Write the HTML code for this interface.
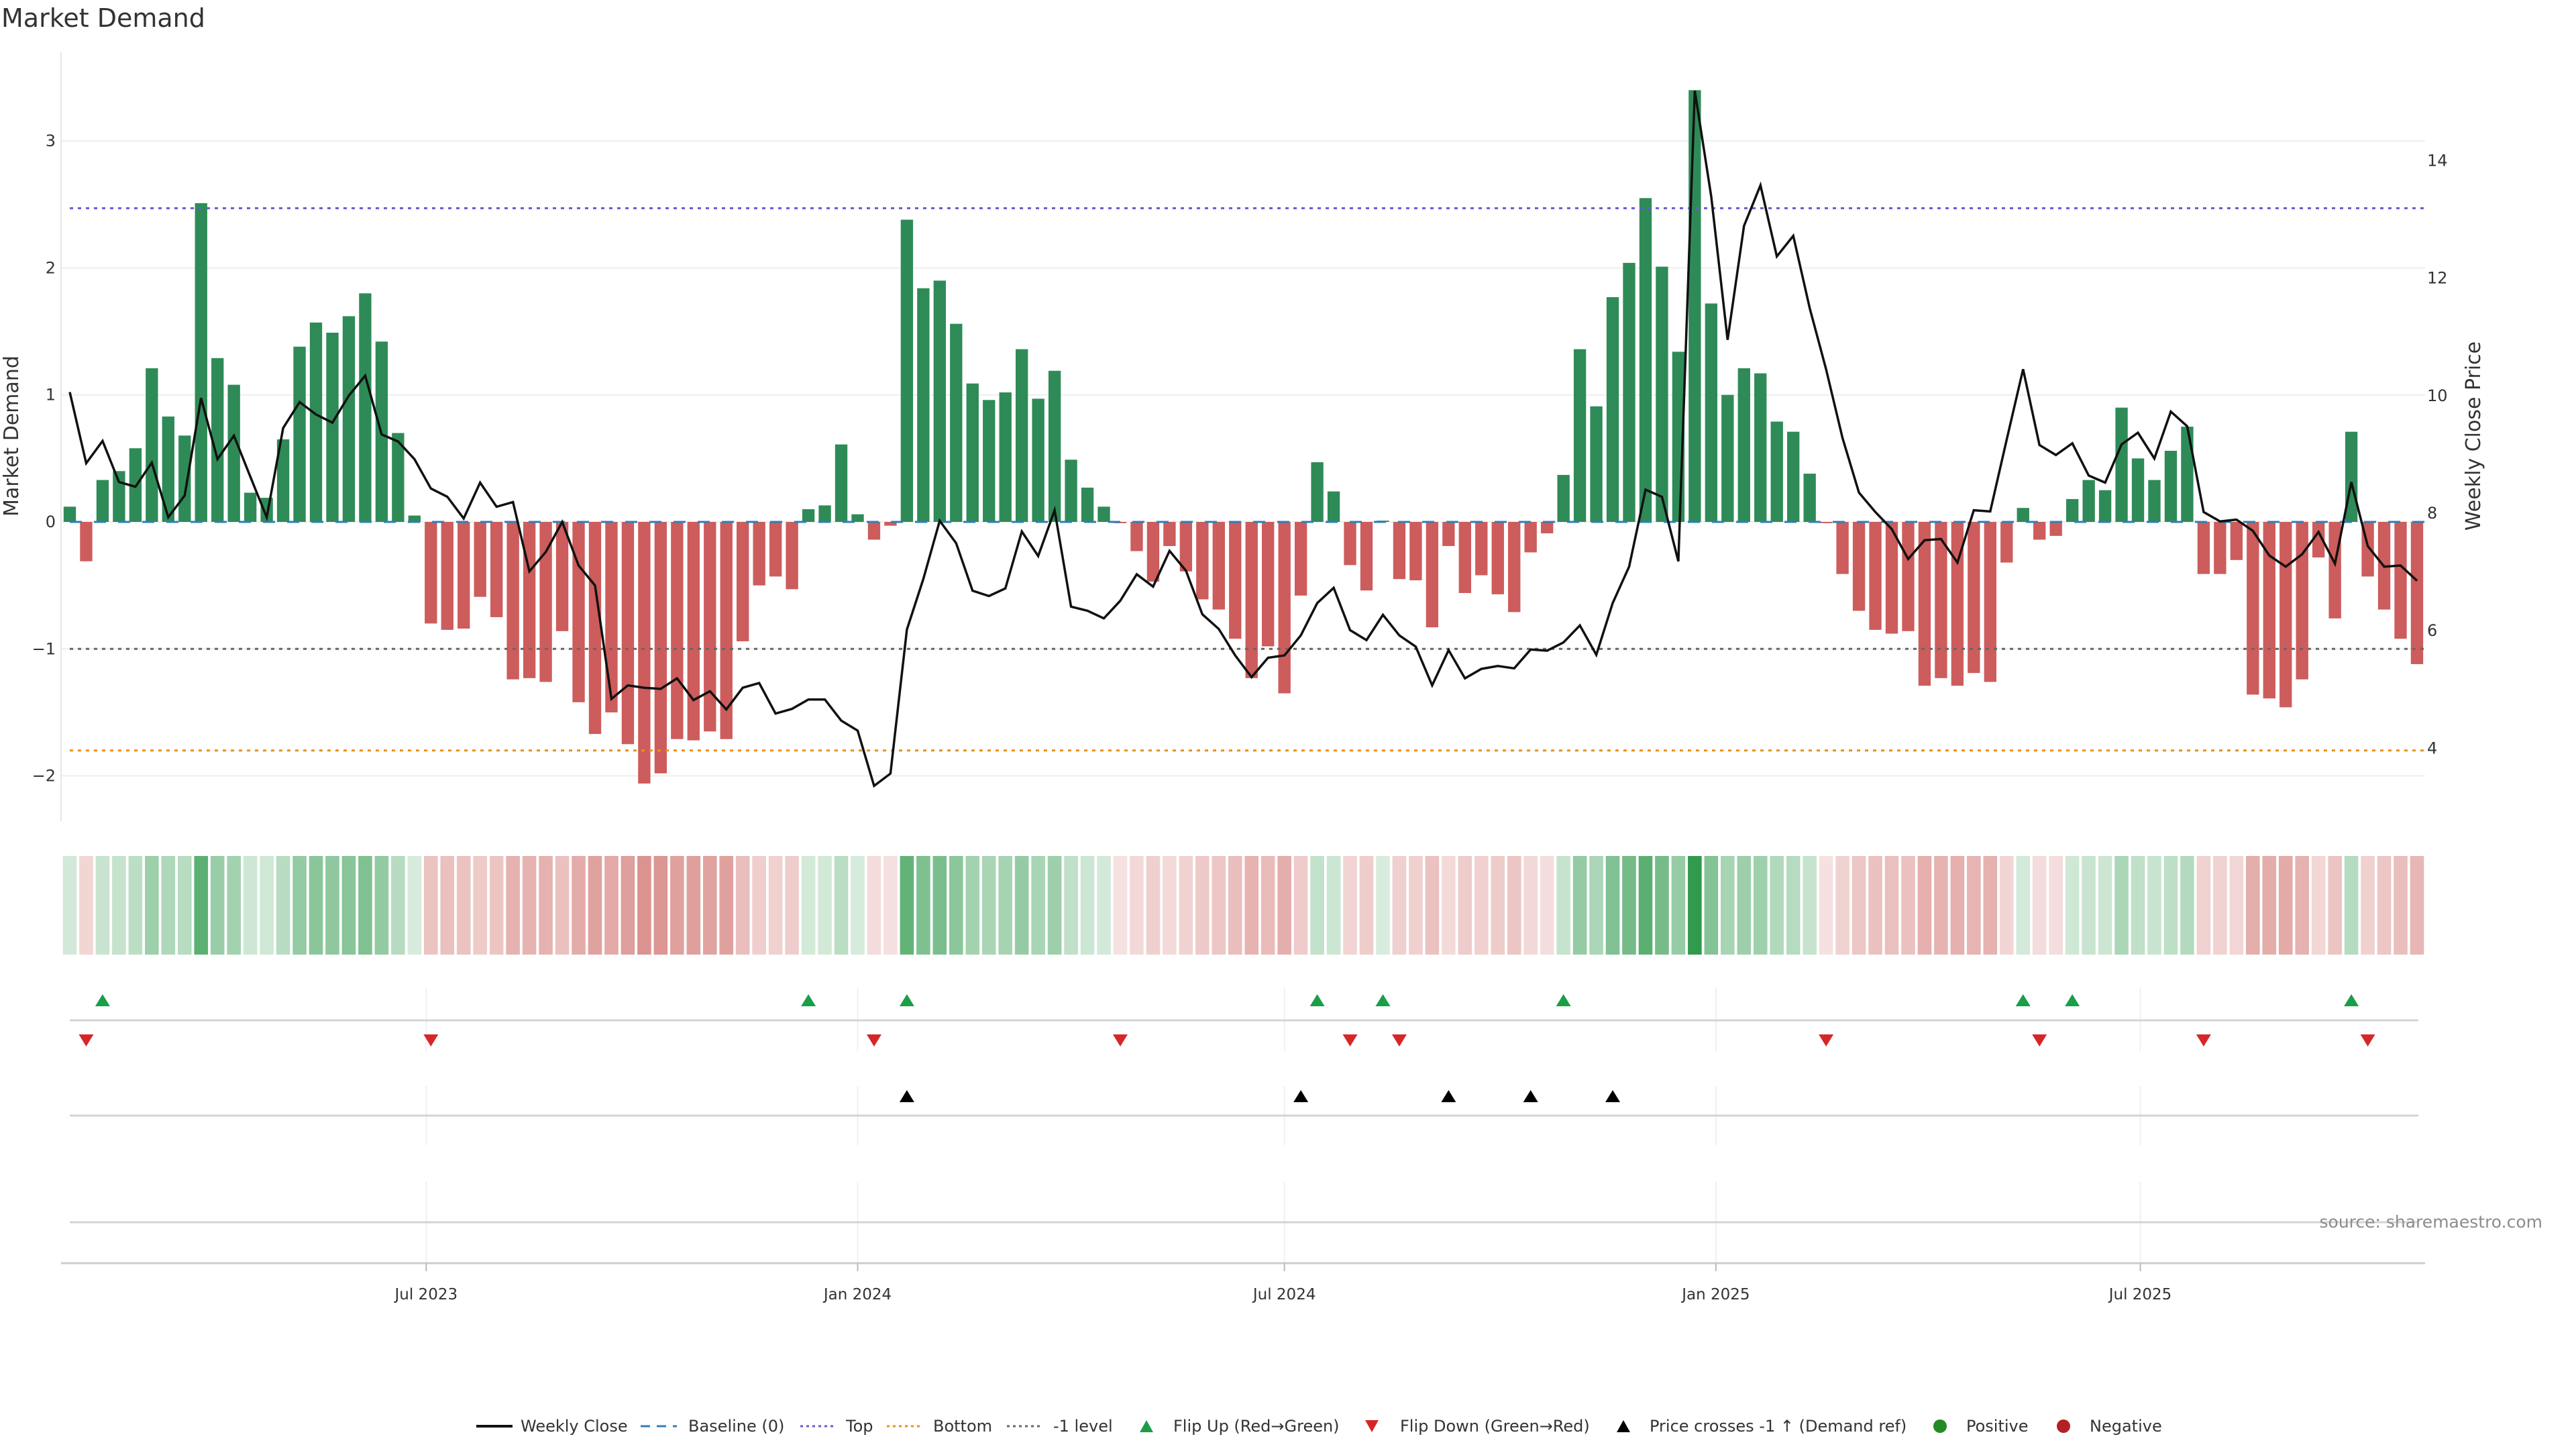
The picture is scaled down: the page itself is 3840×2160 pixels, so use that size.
<!DOCTYPE html>
<html><head><meta charset="utf-8"><title>Market Demand</title>
<style>
html,body{margin:0;padding:0;background:#fff;}
svg{display:block;font-family:"DejaVu Sans","Liberation Sans",sans-serif;}
</style></head>
<body>
<svg id="chart" width="3840" height="2160" viewBox="0 0 3840 2160" xmlns="http://www.w3.org/2000/svg">
<text x="2" y="40" font-size="38" fill="#333">Market Demand</text>
<g id="main"></g>
<g id="heat"></g>
<g id="sub"></g>
<g id="axes"></g>
<g id="legend"></g>
<text x="3790" y="1830" font-size="25" fill="#8c8c8c" text-anchor="end">source: sharemaestro.com</text>
</svg>
<script>
const demandValues = [0.12,-0.31,0.33,0.40,0.58,1.21,0.83,0.68,2.51,1.29,1.08,0.23,0.19,0.65,1.38,1.57,1.49,1.62,1.80,1.42,0.70,0.05,-0.80,-0.85,-0.84,-0.59,-0.75,-1.24,-1.23,-1.26,-0.86,-1.42,-1.67,-1.50,-1.75,-2.06,-1.98,-1.71,-1.72,-1.65,-1.71,-0.94,-0.50,-0.43,-0.53,0.10,0.13,0.61,0.06,-0.14,-0.03,2.38,1.84,1.90,1.56,1.09,0.96,1.02,1.36,0.97,1.19,0.49,0.27,0.12,-0.01,-0.23,-0.47,-0.19,-0.39,-0.61,-0.69,-0.92,-1.23,-0.98,-1.35,-0.58,0.47,0.24,-0.34,-0.54,0.01,-0.45,-0.46,-0.83,-0.19,-0.56,-0.42,-0.57,-0.71,-0.24,-0.09,0.37,1.36,0.91,1.77,2.04,2.55,2.01,1.34,3.40,1.72,1.00,1.21,1.17,0.79,0.71,0.38,-0.01,-0.41,-0.70,-0.85,-0.88,-0.86,-1.29,-1.23,-1.29,-1.19,-1.26,-0.32,0.11,-0.14,-0.11,0.18,0.33,0.25,0.90,0.50,0.33,0.56,0.75,-0.41,-0.41,-0.30,-1.36,-1.39,-1.46,-1.24,-0.28,-0.76,0.71,-0.43,-0.69,-0.92,-1.12];
const closePrices = [10.06,8.85,9.23,8.53,8.45,8.86,7.93,8.30,9.96,8.92,9.32,8.62,7.93,9.45,9.89,9.68,9.54,10.0,10.34,9.34,9.22,8.92,8.42,8.28,7.91,8.52,8.11,8.19,7.01,7.34,7.85,7.11,6.77,4.84,5.07,5.03,5.01,5.19,4.82,4.97,4.66,5.03,5.11,4.59,4.67,4.83,4.83,4.47,4.30,3.36,3.57,6.02,6.88,7.87,7.49,6.68,6.59,6.72,7.69,7.27,8.05,6.41,6.34,6.21,6.51,6.96,6.75,7.36,7.02,6.28,6.03,5.58,5.21,5.54,5.58,5.92,6.47,6.73,6.01,5.84,6.27,5.92,5.73,5.07,5.67,5.19,5.35,5.40,5.36,5.68,5.66,5.80,6.09,5.59,6.47,7.09,8.40,8.28,7.18,15.19,13.39,10.95,12.89,13.58,12.37,12.72,11.49,10.45,9.28,8.35,8.02,7.73,7.22,7.54,7.56,7.16,8.05,8.03,9.25,10.45,9.16,8.99,9.19,8.64,8.52,9.17,9.37,8.93,9.73,9.48,8.02,7.86,7.89,7.70,7.28,7.09,7.30,7.68,7.14,8.53,7.44,7.09,7.11,6.85];
const flipUpIdx = [2,45,51,76,80,91,119,122,139];
const flipDownIdx = [1,22,49,64,78,81,107,120,130,140];
const priceCrossIdx = [51,75,84,89,94];
const levelTop = 2.47, levelBottom = -1.8, levelMinus1 = -1;
const demandTicks = [-2,-1,0,1,2,3];
const demandTickLabels = ["\u22122","\u22121","0","1","2","3"];
const priceTicks = [4,6,8,10,12,14];
const xTickDates = ["2023-07-01","2024-01-01","2024-07-01","2025-01-01","2025-07-01"];
const xTickLabels = ["Jul 2023","Jan 2024","Jul 2024","Jan 2025","Jul 2025"];
const firstWeek = "2023-01-30";

const NS = "http://www.w3.org/2000/svg";
function mk(tag, attrs, parent){const e=document.createElementNS(NS,tag);for(const k in attrs)e.setAttribute(k,attrs[k]);parent.appendChild(e);return e;}
const N = demandValues.length;
const X0 = 104, X1 = 3603;
const step = (X1-X0)/(N-1);
const xIdx = i => X0 + i*step;
const weekMs = 7*864e5, t0 = Date.parse(firstWeek);
const xDate = d => X0 + (Date.parse(d)-t0)/weekMs*step;
const Y0 = 778, UNIT = 189.3;
const yD = v => Y0 - v*UNIT;
const PUNIT = 87.6, P8 = 765;
const yP = p => P8 - (p-8)*PUNIT;
const PL = 91, PR = 3615, PT = 78, PB = 1224;

const main = document.getElementById('main');
demandTicks.forEach((t,k)=>{
  const g = mk('line',{x1:PL,x2:PR,y1:yD(t),y2:yD(t),stroke:'#eeeeee','stroke-width':2},main);
  
  
  const tl = mk('text',{x:83,y:yD(t)+8,'font-size':24,fill:'#333','text-anchor':'end'},main);
  tl.textContent = demandTickLabels[k];
  
  
});
const lax = mk('line',{x1:PL,x2:PL,y1:PT,y2:PB,stroke:'#e6e6e6','stroke-width':2},main);


priceTicks.forEach(t=>{
  const tl = mk('text',{x:3618,y:yP(t)+8,'font-size':24,fill:'#333'},main);
  tl.textContent = String(t);
  
  
});
const yt = mk('text',{x:0,y:0,'font-size':30,fill:'#333','text-anchor':'middle',transform:'translate(27,650) rotate(-90)'},main);
yt.textContent='Market Demand';


const yt2 = mk('text',{x:0,y:0,'font-size':30,fill:'#333','text-anchor':'middle',transform:'translate(3697,650) rotate(-90)'},main);
yt2.textContent='Weekly Close Price';


const bw = step*0.75;
demandValues.forEach((v,i)=>{
  const y = Math.min(yD(v),Y0), h = Math.max(Math.abs(yD(v)-Y0),0.5);
  const r = mk('rect',{x:xIdx(i)-bw/2,y:y,width:bw,height:h,fill:v>=0?'#2e8b57':'#cd5c5c'},main);
  
  
});
function hline(v,color,dash,name){
  const l = mk('line',{x1:PL+13,x2:PR,y1:yD(v),y2:yD(v),stroke:color,'stroke-width':3,'stroke-dasharray':dash},main);
  
  
}
hline(0,'#2f7fb5','18 18','baseline-line');
hline(levelTop,'#6a5acd','5 7','top-level-line');
hline(levelBottom,'#e8901c','5 7','bottom-level-line');
hline(levelMinus1,'#666666','5 7','minus1-level-line');
const pts = closePrices.map((p,i)=>xIdx(i).toFixed(1)+','+yP(p).toFixed(1)).join(' ');
const pl = mk('polyline',{points:pts,fill:'none',stroke:'#111','stroke-width':3.5,'stroke-linejoin':'miter'},main);



const heat = document.getElementById('heat');
const vmax = 3.4;
demandValues.forEach((v,i)=>{
  const t = Math.min(1,0.18+0.78*Math.abs(v)/vmax);
  const base = v>=0?[40,150,70]:[200,90,85];
  const c = base.map(b=>Math.round(255-(255-b)*t));
  const r = mk('rect',{x:xIdx(i)-10.3,y:1276,width:20.6,height:147,fill:`rgb(${c[0]},${c[1]},${c[2]})`},heat);
  
  
});

const sub = document.getElementById('sub');
xTickDates.forEach(d=>{
  const x = xDate(d);
  [[1472,1567],[1619,1707],[1761,1881]].forEach(([a,b])=>{
    const g = mk('line',{x1:x,x2:x,y1:a,y2:b,stroke:'#eef0f4','stroke-width':2},sub);
    
    
  });
});
[1521,1663,1822].forEach(y=>{
  const l = mk('line',{x1:104,x2:3605,y1:y,y2:y,stroke:'#d4d4d4','stroke-width':3},sub);
  
  
});
function tri(x,y,up,color,name){
  const w=11,h=9;
  const p = up?`${x-w},${y+h} ${x+w},${y+h} ${x},${y-h}`:`${x-w},${y-h} ${x+w},${y-h} ${x},${y+h}`;
  const e = mk('polygon',{points:p,fill:color},sub);
  
  
}
flipUpIdx.forEach(i=>tri(xIdx(i),1491,true,'#1a9e47','flip-up-marker'));
flipDownIdx.forEach(i=>tri(xIdx(i),1551,false,'#d62728','flip-down-marker'));
priceCrossIdx.forEach(i=>tri(xIdx(i),1634,true,'#000','price-cross-marker'));

const axes = document.getElementById('axes');
const bx = mk('line',{x1:PL,x2:PR,y1:1883,y2:1883,stroke:'#cccccc','stroke-width':3},axes);


xTickDates.forEach((d,k)=>{
  const x = xDate(d);
  const tk = mk('line',{x1:x,x2:x,y1:1883,y2:1895,stroke:'#bbb','stroke-width':2},axes);
  
  
  const tl = mk('text',{x:x,y:1937,'font-size':23,fill:'#333','text-anchor':'middle'},axes);
  tl.textContent = xTickLabels[k];
  
  
});

const lg = document.getElementById('legend');
const LY = 2126;
function ltext(x,s){const t=mk('text',{x:x,y:LY+8,'font-size':24,fill:'#333'},lg);t.textContent=s;}
function lline(x,color,dash,w){const l=mk('line',{x1:x,x2:x+54,y1:LY,y2:LY,stroke:color,'stroke-width':w,'stroke-dasharray':dash},lg);}
lline(710,'#111','none',4); ltext(776,'Weekly Close');
lline(955,'#2f7fb5','14 10',3); ltext(1026,'Baseline (0)');
lline(1193,'#6a5acd','4 5',3); ltext(1261,'Top');
lline(1322,'#e8901c','4 5',3); ltext(1391,'Bottom');
lline(1501,'#666','4 5',3); ltext(1570,'-1 level');
function ltri(x,up,color){const w=10,h=9;const p=up?`${x-w},${LY+h} ${x+w},${LY+h} ${x},${LY-h}`:`${x-w},${LY-h} ${x+w},${LY-h} ${x},${LY+h}`;const e=mk('polygon',{points:p,fill:color},lg);}
ltri(1709,true,'#1a9e47'); ltext(1749,'Flip Up (Red\u2192Green)');
ltri(2045,false,'#d62728'); ltext(2087,'Flip Down (Green\u2192Red)');
ltri(2420,true,'#000'); ltext(2459,'Price crosses -1 \u2191 (Demand ref)');
function ldot(x,color){const c=mk('circle',{cx:x,cy:LY,r:10,fill:color},lg);}
ldot(2892,'#228b22'); ltext(2931,'Positive');
ldot(3076,'#b22222'); ltext(3115,'Negative');
</script>
</body></html>
